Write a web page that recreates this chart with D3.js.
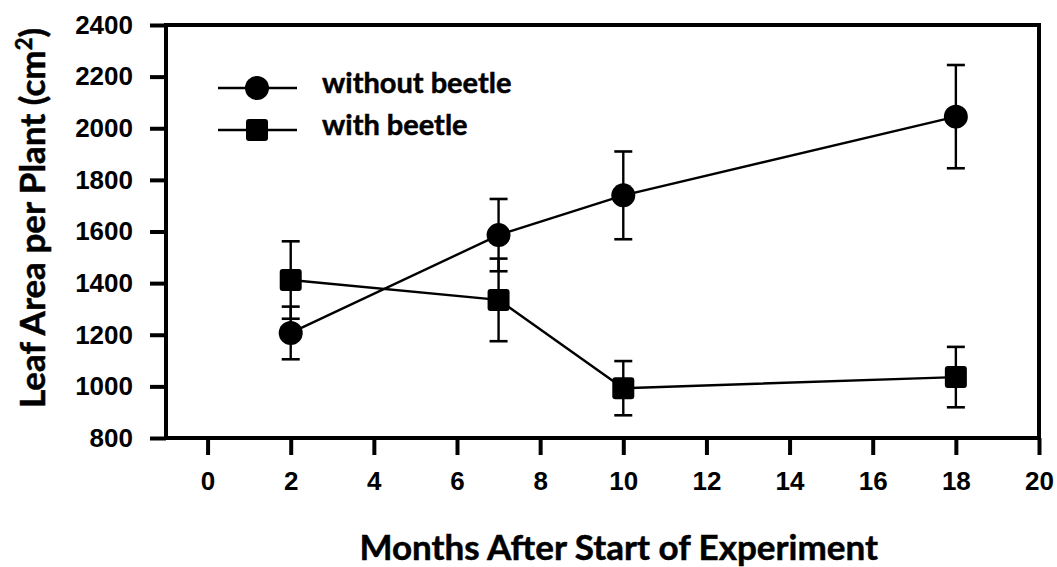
<!DOCTYPE html>
<html>
<head>
<meta charset="utf-8">
<script src="https://cdn.jsdelivr.net/npm/d3@7"></script>
<style>
  body { margin: 0; background: #fff; }
  .tick text { font-family: "Liberation Sans", Arial, sans-serif; font-weight: bold; font-size: 26px; }
  .ttl { font-family: Lato, "Open Sans", sans-serif; font-weight: bold; stroke: #000; stroke-width: 0.5px; }
</style>
</head>
<body>
<div id="chart"></div>
<script>
const months = [2, 7, 10, 18];
const withoutBeetle = [1207, 1586, 1740, 2045];
const withoutErr = [102, 140, 170, 200];
const withBeetle = [1412, 1335, 993, 1036];
const withErr = [150, 160, 105, 117];
const xTicks = [0, 2, 4, 6, 8, 10, 12, 14, 16, 18, 20];
const yTicks = [800, 1000, 1200, 1400, 1600, 1800, 2000, 2200, 2400];

const width = 1057, height = 567;
const svg = d3.select("#chart").append("svg")
    .attr("width", width).attr("height", height);

const x = d3.scaleLinear().domain([-1, 20]).range([166, 1039]);
const y = d3.scaleLinear().domain([800, 2400]).range([438, 25]);

// frame
svg.append("rect")
    .attr("x", x(-1)).attr("y", y(2400))
    .attr("width", x(20) - x(-1)).attr("height", y(800) - y(2400))
    .attr("fill", "none").attr("stroke", "#000").attr("stroke-width", 4);

const yAxis = svg.append("g")
    .attr("transform", `translate(${x(-1)},0)`)
    .call(d3.axisLeft(y).tickValues(yTicks).tickSize(16).tickPadding(17).tickFormat(d3.format("d")));
const xAxis = svg.append("g")
    .attr("transform", `translate(0,${y(800)})`)
    .call(d3.axisBottom(x).tickValues(xTicks).tickSize(17).tickPadding(17).tickFormat(d3.format("d")));
[xAxis, yAxis].forEach(a => {
  a.select(".domain").remove();
  a.selectAll(".tick line").attr("stroke", "#000").attr("stroke-width", 4);
  a.selectAll(".tick text").attr("fill", "#000");
});

const series = [
  {name: "without beetle", vals: withoutBeetle, err: withoutErr, shape: "circle"},
  {name: "with beetle", vals: withBeetle, err: withErr, shape: "square"}
];

const line = d3.line().x(d => x(d[0])).y(d => y(d[1]));

series.forEach(s => {
  const pts = months.map((m, i) => [m, s.vals[i], s.err[i]]);
  svg.append("path").datum(pts).attr("d", line)
      .attr("fill", "none").attr("stroke", "#000").attr("stroke-width", 2.4);
  const eb = svg.append("g").selectAll("g").data(pts).enter().append("g");
  eb.append("line")
      .attr("x1", d => x(d[0])).attr("x2", d => x(d[0]))
      .attr("y1", d => y(d[1] - d[2])).attr("y2", d => y(d[1] + d[2]))
      .attr("stroke", "#000").attr("stroke-width", 2.4);
  [-1, 1].forEach(sign => {
    eb.append("line")
        .attr("x1", d => x(d[0]) - 9).attr("x2", d => x(d[0]) + 9)
        .attr("y1", d => y(d[1] + sign * d[2])).attr("y2", d => y(d[1] + sign * d[2]))
        .attr("stroke", "#000").attr("stroke-width", 2.6);
  });
});

function drawMarker(g, shape, cx, cy) {
  if (shape === "circle") {
    g.append("circle").attr("cx", cx).attr("cy", cy).attr("r", 12).attr("fill", "#000");
  } else {
    g.append("rect").attr("x", cx - 11).attr("y", cy - 11)
        .attr("width", 22).attr("height", 22).attr("rx", 3).attr("fill", "#000");
  }
}

series.forEach(s => {
  const g = svg.append("g");
  months.forEach((m, i) => drawMarker(g, s.shape, x(m), y(s.vals[i])));
});

// legend
const legend = svg.append("g");
series.forEach((s, i) => {
  const ly = 88 + i * 42;
  legend.append("line").attr("x1", 218).attr("x2", 297).attr("y1", ly).attr("y2", ly)
      .attr("stroke", "#000").attr("stroke-width", 2.4);
  drawMarker(legend, s.shape, 257, ly);
  legend.append("text").attr("class", "ttl")
      .attr("x", 322).attr("y", ly + 5)
      .attr("font-size", 29).text(s.name);
});

// axis titles
svg.append("text").attr("class", "ttl")
    .attr("x", 878).attr("y", 560).attr("text-anchor", "end")
    .attr("font-size", 35).text("Months After Start of Experiment");

const yt = svg.append("text").attr("class", "ttl")
    .attr("transform", `translate(45,${218}) rotate(-90)`)
    .attr("text-anchor", "middle").attr("font-size", 35);
yt.append("tspan").text("Leaf Area per Plant (cm");
yt.append("tspan").attr("font-size", 22).attr("dy", -13).text("2");
yt.append("tspan").attr("dy", 13).text(")");
</script>
</body>
</html>
